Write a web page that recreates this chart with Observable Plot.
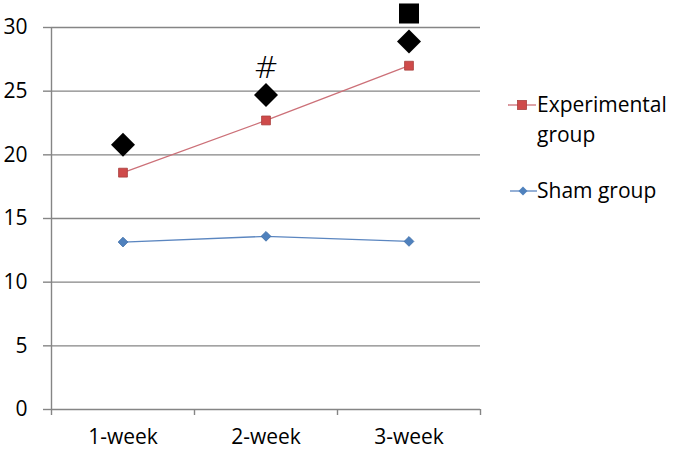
<!DOCTYPE html>
<html>
<head>
<meta charset="utf-8">
<script src="https://cdn.jsdelivr.net/npm/d3@7"></script>
<script src="https://cdn.jsdelivr.net/npm/@observablehq/plot@0.6"></script>
<style>
  body { margin: 0; background: #fff; }
  #wrap { position: relative; width: 675px; height: 454px; font-family: "Open Sans", sans-serif; }
  .leg { position: absolute; font-size: 21px; color: #000; line-height: 30px; }
  .leg svg { position: absolute; }
</style>
</head>
<body>
<div id="wrap"></div>
<script>
const weeks = ["1-week", "2-week", "3-week"];
const experimental = [18.6, 22.7, 27.0];
const sham = [13.15, 13.6, 13.2];
const sigDiamond = [20.8, 24.7, 28.9];
const hashWeek = ["2-week"];
const hashValue = [26.8];
const squareWeek = ["3-week"];
const squareValue = [31.1];
const yTicks = [0, 5, 10, 15, 20, 25, 30];
const seriesNames = ["Experimental group", "Sham group"];
const seriesColors = ["#C0504D", "#4F81BD"];

const pos = w => weeks.indexOf(w) + 0.5;
const expData = weeks.map((w, i) => ({x: pos(w), y: experimental[i]}));
const shamData = weeks.map((w, i) => ({x: pos(w), y: sham[i]}));
const sigData = weeks.map((w, i) => ({x: pos(w), y: sigDiamond[i]}));
const hashData = hashWeek.map((w, i) => ({x: pos(w), y: hashValue[i]}));
const sqData = squareWeek.map((w, i) => ({x: pos(w), y: squareValue[i]}));
const gridCol = "#858585";

const chart = Plot.plot({
  width: 675, height: 454,
  marginLeft: 51, marginRight: 195, marginTop: 27, marginBottom: 45,
  x: {domain: [0, 3]},
  y: {domain: [0, 30]},
  style: {fontFamily: "Open Sans, sans-serif", fontSize: "21px", color: "#000", background: "#fff"},
  marks: [
    Plot.gridY(yTicks, {stroke: gridCol, strokeOpacity: 1, strokeWidth: 1.4}),
    Plot.axisY({ticks: yTicks, tickSize: 8, tickPadding: 16, stroke: gridCol, strokeWidth: 1.4, label: null}),
    Plot.ruleX([0], {stroke: gridCol, strokeWidth: 1.4}),
    Plot.axisX({ticks: [0, 1, 2, 3], tickSize: 6, tickFormat: () => "", stroke: gridCol, strokeWidth: 1.4, label: null}),
    Plot.axisX({ticks: weeks.map(pos), tickFormat: v => weeks[Math.floor(v)], tickSize: 0, tickPadding: 20, label: null}),
    Plot.line(shamData, {x: "x", y: "y", stroke: "#5b86c0", strokeWidth: 1.3}),
    Plot.dot(shamData, {x: "x", y: "y", symbol: "diamond2", r: 4.4, fill: seriesColors[1], stroke: "#3f6ea8", strokeWidth: 0.8}),
    Plot.line(expData, {x: "x", y: "y", stroke: "#cc7078", strokeWidth: 1.3}),
    Plot.dot(expData, {x: "x", y: "y", symbol: "square", r: 5, fill: "#cf4a4a", stroke: "#a8403d", strokeWidth: 0.8}),
    Plot.dot(sigData, {x: "x", y: "y", symbol: "diamond2", r: 10.8, fill: "#000"}),
    Plot.dot(sqData, {x: "x", y: "y", symbol: "square", r: 11.3, fill: "#000"}),
    Plot.text(hashData, {x: "x", y: "y", text: () => "#", fontSize: 30, fontFamily: "DejaVu Sans", fontWeight: 200, fill: "#000"})
  ]
});
const wrap = document.getElementById("wrap");
wrap.appendChild(chart);

// legend
const leg1 = document.createElement("div");
leg1.className = "leg";
leg1.style.left = "508px"; leg1.style.top = "89px";
leg1.innerHTML = `<svg width="28" height="12" style="left:0;top:10px"><line x1="0" x2="28" y1="6" y2="6" stroke="#cc7078" stroke-width="1.3"/><rect x="9.5" y="1.5" width="9" height="9" fill="#cf4a4a" stroke="#a8403d" stroke-width="0.8"/></svg><div style="margin-left:29px">Experimental<br>group</div>`;
wrap.appendChild(leg1);
const leg2 = document.createElement("div");
leg2.className = "leg";
leg2.style.left = "510px"; leg2.style.top = "175px";
leg2.innerHTML = `<svg width="28" height="12" style="left:0;top:10px"><line x1="0" x2="27" y1="6" y2="6" stroke="#5b86c0" stroke-width="1.3"/><path d="M13,1.5 L17.5,6 L13,10.5 L8.5,6 Z" fill="${seriesColors[1]}"/></svg><div style="margin-left:27px">Sham group</div>`;
wrap.appendChild(leg2);
</script>
</body>
</html>
